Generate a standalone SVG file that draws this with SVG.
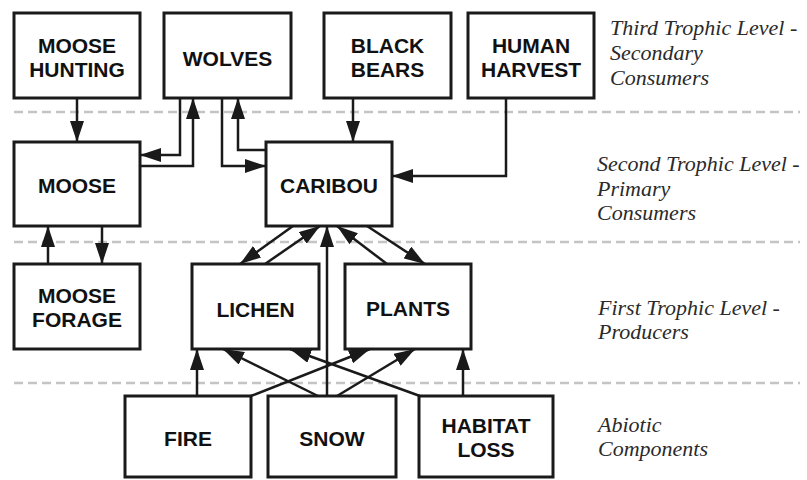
<svg xmlns="http://www.w3.org/2000/svg" width="807" height="480" viewBox="0 0 807 480">
<defs>
<style>
.box{fill:#fff;stroke:#1a1a1a;stroke-width:3}
.lbl{font-family:"Liberation Sans",Arial,sans-serif;font-weight:bold;font-size:21px;fill:#111;text-anchor:middle}
.lvl{font-family:"Liberation Serif","Times New Roman",serif;font-style:italic;font-size:22px;fill:#2a2a2a}
.sep{stroke:#c4c4c4;stroke-width:2.5;stroke-dasharray:9 5;fill:none}
.con path{fill:none;stroke:#1a1a1a;stroke-width:2.5;marker-end:url(#ah)}
</style>
<marker id="ah" markerUnits="userSpaceOnUse" markerWidth="22" markerHeight="14" refX="21" refY="7" orient="auto">
<path d="M0,0 L21,7 L0,14 z" fill="#1a1a1a"/>
</marker>
</defs>
<rect width="807" height="480" fill="#fff"/>
<g id="separators">
<line class="sep" x1="14" y1="112" x2="800" y2="112"/>
<line class="sep" x1="14" y1="242" x2="800" y2="242"/>
<line class="sep" x1="14" y1="383" x2="800" y2="383"/>
</g>
<g id="level-labels">
<text class="lvl" x="610" y="35">Third Trophic Level -</text>
<text class="lvl" x="610" y="60">Secondary</text>
<text class="lvl" x="610" y="85">Consumers</text>
<text class="lvl" x="597" y="171">Second Trophic Level -</text>
<text class="lvl" x="597" y="196">Primary</text>
<text class="lvl" x="597" y="220">Consumers</text>
<text class="lvl" x="598" y="315">First Trophic Level -</text>
<text class="lvl" x="598" y="339">Producers</text>
<text class="lvl" x="598" y="432">Abiotic</text>
<text class="lvl" x="598" y="456">Components</text>
</g>
<g id="moose-hunting"><rect class="box" x="14" y="13" width="126" height="85"/><text class="lbl" x="77" y="53">MOOSE</text><text class="lbl" x="77" y="77">HUNTING</text></g>
<g id="wolves"><rect class="box" x="164" y="13" width="127" height="85"/><text class="lbl" x="227.5" y="66">WOLVES</text></g>
<g id="black-bears"><rect class="box" x="324" y="13" width="127" height="85"/><text class="lbl" x="387.5" y="53">BLACK</text><text class="lbl" x="387.5" y="77">BEARS</text></g>
<g id="human-harvest"><rect class="box" x="468" y="13" width="126" height="85"/><text class="lbl" x="531" y="53">HUMAN</text><text class="lbl" x="531" y="77">HARVEST</text></g>
<g id="moose"><rect class="box" x="14" y="142" width="126" height="84"/><text class="lbl" x="77" y="193">MOOSE</text></g>
<g id="caribou"><rect class="box" x="266" y="142" width="126" height="84"/><text class="lbl" x="329" y="193">CARIBOU</text></g>
<g id="moose-forage"><rect class="box" x="14" y="264" width="126" height="85"/><text class="lbl" x="77" y="303">MOOSE</text><text class="lbl" x="77" y="327">FORAGE</text></g>
<g id="lichen"><rect class="box" x="192" y="264" width="127" height="85"/><text class="lbl" x="255.5" y="317">LICHEN</text></g>
<g id="plants"><rect class="box" x="345" y="264" width="126" height="85"/><text class="lbl" x="408" y="316">PLANTS</text></g>
<g id="fire"><rect class="box" x="125" y="396" width="126" height="81"/><text class="lbl" x="188" y="446">FIRE</text></g>
<g id="snow"><rect class="box" x="268" y="396" width="128" height="81"/><text class="lbl" x="332" y="446">SNOW</text></g>
<g id="habitat-loss"><rect class="box" x="419" y="396" width="134" height="81"/><text class="lbl" x="486" y="433">HABITAT</text><text class="lbl" x="486" y="457">LOSS</text></g>
<g id="connectors" class="con">
<path d="M77,98 V142"/>
<path d="M180,98 V155 H140"/>
<path d="M140,166 H193 V98"/>
<path d="M222,98 V166 H266"/>
<path d="M266,150 H238 V98"/>
<path d="M353,98 V142"/>
<path d="M506,98 V176 H392"/>
<path d="M48,264 V226"/>
<path d="M102,226 V264"/>
<path d="M293,226 L240,264"/>
<path d="M265,264 L320,226"/>
<path d="M327,396 V226"/>
<path d="M387,264 L337,226"/>
<path d="M367,226 L425,264"/>
<path d="M197,396 V349"/>
<path d="M463,396 V349"/>
<path d="M318,396 L223,349"/>
<path d="M420,396 L290,349"/>
<path d="M251,396 L370,349"/>
<path d="M337,396 L415,349"/>
</g>
</svg>
